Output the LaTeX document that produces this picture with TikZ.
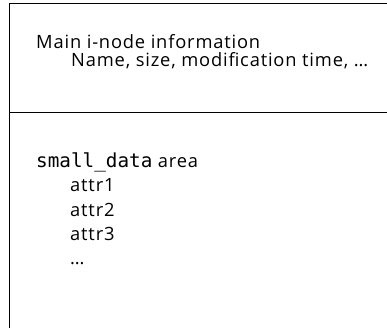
\documentclass[tikz,border=0pt]{standalone}
\usepackage{fontspec}
\setmainfont[LetterSpace=4.5]{Open Sans}
\setmonofont{DejaVu Sans Mono}
\begin{document}
\begin{tikzpicture}[x=1pt,y=-1pt,
  txt/.style={anchor=base west, inner sep=0pt, font=\fontsize{18.3}{21}\selectfont},
  code/.style={font=\fontsize{19.3}{22}\selectfont\ttfamily},
  frame/.style={line width=1pt, draw=black}]
\useasboundingbox (0,0) rectangle (387,328);
% inode layout: header region and small_data region
\coordinate (tl) at (9,4);
\coordinate (tr) at (387,4);
\coordinate (bl) at (9,328);
\coordinate (ml) at (9,113);
\coordinate (mr) at (387,113);
\draw[frame] (tr) -- (tl) -- (bl);
\draw[frame] (ml) -- (mr);
% header text
\node[txt] (main) at (36,49) {Main i-node information};
\node[txt] (meta) at (71,67) {Name, size, modification time, …};
% small_data text
\node[txt] (sd) at (36,168) {{\fontsize{19.3}{22}\selectfont\ttfamily small\_data} area};
\node[txt] (a1) at (70,192) {attr1};
\node[txt] (a2) at (70,216) {attr2};
\node[txt] (a3) at (70,240) {attr3};
\node[txt] (a4) at (70,264) {…};
\end{tikzpicture}
\end{document}
